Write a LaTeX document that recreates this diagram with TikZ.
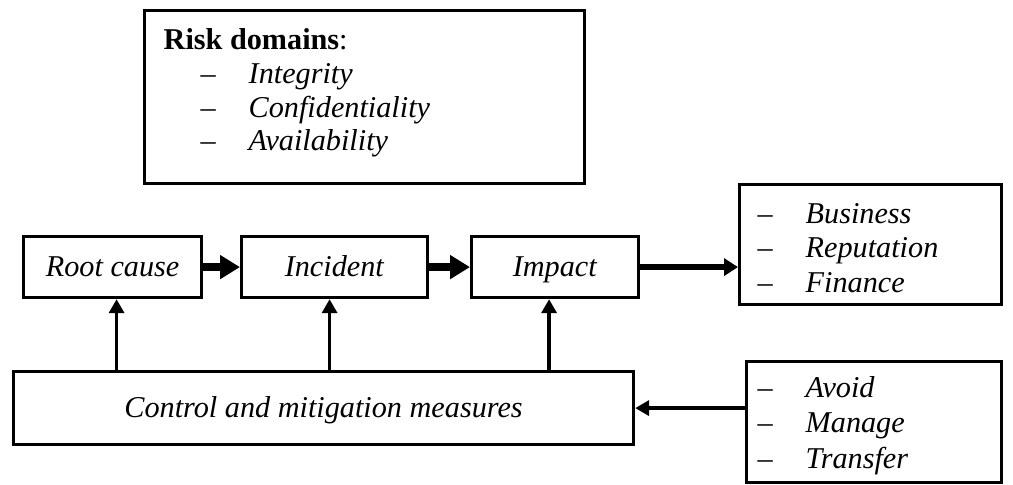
\documentclass[tikz,border=0pt]{standalone}
\usepackage{fontspec}
\setmainfont{Liberation Serif}
\usepackage{tikz}
\usetikzlibrary{positioning, calc, arrows.meta}
\newcommand{\litem}[1]{\makebox[0.48cm][l]{--}\textit{#1}}

\begin{document}
\begin{tikzpicture}[
      x=1cm, y=-1cm,
      every node/.style={font=\fontsize{8.6}{10}\selectfont},
      box/.style={draw, line width=0.9pt, anchor=north west, inner sep=0pt,
                  text height=0.8em, text depth=0.24em},
      item/.style={anchor=base west, inner sep=0pt},
      fat/.style={-{Triangle[length=0.2cm, width=0.23cm]}, line width=2.5pt},
      mid/.style={-{Triangle[length=0.14cm, width=0.17cm]}, line width=1.6pt},
      arr/.style={-{Triangle[length=0.14cm, width=0.15cm]}, line width=1pt},
    ]
    \useasboundingbox (0,0) rectangle (10.13,4.84);

    % -- risk domains --
    \node[box, minimum width=4.40cm, minimum height=1.73cm] (risk) at (1.43,0.09) {};
    \node[item] (rhead) at (1.63,0.49) {\textbf{Risk domains}:};
    \node[item] (r1) at (2.00,0.83) {\litem{Integrity}};
    \node[item] (r2) at (2.00,1.17) {\litem{Confidentiality}};
    \node[item] (r3) at (2.00,1.50) {\litem{Availability}};

    % -- chain --
    \node[box, minimum width=1.78cm, minimum height=0.61cm] (root) at (0.22,2.35) {\textit{Root cause}};
    \node[box, minimum width=1.86cm, minimum height=0.61cm] (incident) at (2.40,2.35) {\textit{Incident}};
    \node[box, minimum width=1.67cm, minimum height=0.61cm] (impact) at (4.70,2.35) {\textit{Impact}};

    % -- effects --
    \node[box, minimum width=2.62cm, minimum height=1.20cm] (effects) at (7.38,1.83) {};
    \node[item] (e1) at (7.57,2.23) {\litem{Business}};
    \node[item] (e2) at (7.57,2.57) {\litem{Reputation}};
    \node[item] (e3) at (7.57,2.92) {\litem{Finance}};

    % -- control --
    \node[box, minimum width=6.20cm, minimum height=0.73cm] (control) at (0.12,3.70) {\textit{Control and mitigation measures}};

    % -- responses --
    \node[box, minimum width=2.55cm, minimum height=1.21cm] (resp) at (7.45,3.60) {};
    \node[item] (a1) at (7.57,3.97) {\litem{Avoid}};
    \node[item] (a2) at (7.57,4.32) {\litem{Manage}};
    \node[item] (a3) at (7.57,4.68) {\litem{Transfer}};

    % -- arrows --
    \draw[fat] (root) -- (incident);
    \draw[fat] (incident) -- (impact);
    \draw[mid] (impact.east) -- (impact.east -| effects.west);

    \draw[arr] ($(control.north -| root.south)+(0.04,0)$) -- ($(root.south)+(0.04,0)$);
    \draw[arr] ($(control.north -| incident.south)+(-0.05,0)$) -- ($(incident.south)+(-0.05,0)$);
    \draw[arr] ($(control.north -| impact.south)+(-0.06,0)$) -- ($(impact.south)+(-0.06,0)$);
    \draw[arr] (resp.west |- control.east) -- (control.east);
  \end{tikzpicture}
\end{document}
